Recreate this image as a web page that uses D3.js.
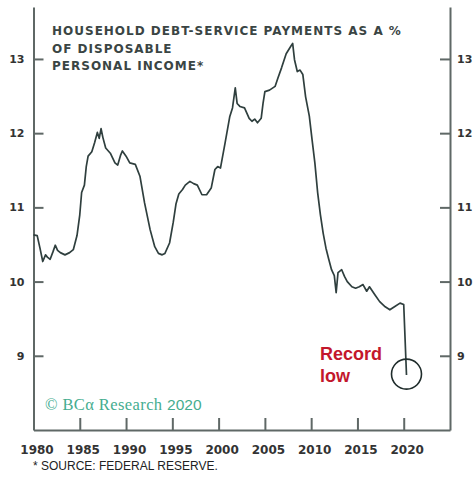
<!DOCTYPE html>
<html>
<head>
<meta charset="utf-8">
<script src="https://cdn.jsdelivr.net/npm/d3@7"></script>
<style>
  body { margin: 0; background: #fff; }
  svg { display: block; }
</style>
</head>
<body>
<div id="chart"></div>
<script>
// DATA (decimal years)
const years = [1980.0, 1980.4, 1980.7, 1981.0, 1981.3, 1981.5, 1981.8, 1982.1, 1982.35, 1982.6, 1982.9, 1983.4, 1983.9, 1984.3, 1984.7,
  1985.0, 1985.2, 1985.5, 1985.7, 1985.9, 1986.3, 1986.6, 1986.9, 1987.1, 1987.3, 1987.5, 1987.8, 1988.3, 1988.8, 1989.1, 1989.4, 1989.6,
  1990.0, 1990.4, 1991.0, 1991.5, 1992.0, 1992.6, 1993.1, 1993.5, 1993.9, 1994.2, 1994.7, 1995.1, 1995.4, 1995.7, 1996.1, 1996.4, 1996.9,
  1997.3, 1997.7, 1998.2, 1998.7, 1999.2, 1999.6, 1999.9, 2000.2, 2000.7, 2001.2, 2001.5, 2001.8, 2002.0, 2002.3, 2002.8, 2003.3, 2003.6,
  2003.9, 2004.2, 2004.6, 2004.8, 2005.0, 2005.5, 2006.1, 2006.4, 2006.8, 2007.3, 2007.7, 2008.0, 2008.2, 2008.5, 2008.8, 2009.1, 2009.4,
  2009.8, 2010.1, 2010.4, 2010.7, 2011.0, 2011.3, 2011.6, 2011.9, 2012.2, 2012.5, 2012.7, 2012.9, 2013.1, 2013.3, 2013.6, 2013.9, 2014.4,
  2014.8, 2015.2, 2015.6, 2016.0, 2016.3, 2016.9, 2017.4, 2018.0, 2018.5, 2019.0, 2019.6, 2020.0, 2020.3]
const debtService = [10.63, 10.62, 10.45, 10.27, 10.36, 10.33, 10.30, 10.40, 10.49, 10.42, 10.39, 10.36, 10.39, 10.43, 10.62,
  10.90, 11.20, 11.30, 11.55, 11.69, 11.75, 11.87, 12.01, 11.93, 12.06, 11.94, 11.80, 11.73, 11.60, 11.57, 11.70, 11.76,
  11.69, 11.60, 11.58, 11.42, 11.06, 10.70, 10.47, 10.38, 10.36, 10.38, 10.52, 10.80, 11.05, 11.18, 11.24, 11.30, 11.35,
  11.32, 11.30, 11.17, 11.17, 11.26, 11.51, 11.55, 11.53, 11.87, 12.22, 12.34, 12.61, 12.40, 12.36, 12.34, 12.20, 12.16,
  12.19, 12.14, 12.20, 12.40, 12.56, 12.58, 12.63, 12.74, 12.88, 13.07, 13.15, 13.21, 12.99, 12.83, 12.85, 12.79, 12.49,
  12.23, 11.91, 11.60, 11.20, 10.90, 10.65, 10.45, 10.30, 10.16, 10.08, 9.85, 10.12, 10.14, 10.16, 10.07, 10.00, 9.93,
  9.91, 9.93, 9.96, 9.87, 9.93, 9.82, 9.73, 9.66, 9.62, 9.66, 9.71, 9.69, 8.74]
const yTicks = [9, 10, 11, 12, 13]
const xLabels = [1980, 1985, 1990, 1995, 2000, 2005, 2010, 2015, 2020]
const xTickMarks = [1985, 1990, 1995, 2000, 2005, 2010, 2015, 2020]
const lowPoint = [2020.3, 8.74]

const width = 474, height = 481

// SCALE
const xScale = d3.scaleLinear().domain([1980, 2025]).range([33.5, 450])
const yScale = d3.scaleLinear().domain([8, 13.7]).range([430, 7])

const svg = d3.select("#chart").append("svg")
  .attr("width", width)
  .attr("height", height)

const axisColor = "#5f6866"

// DRAW AXES
const left = svg.append("g")
  .attr("transform", `translate(${xScale(1980)},0)`)
  .call(d3.axisLeft(yScale).tickValues(yTicks).tickSize(-10).tickSizeOuter(0).tickPadding(9).tickFormat(d3.format("d")))
const right = svg.append("g")
  .attr("transform", `translate(${xScale(2025)},0)`)
  .call(d3.axisRight(yScale).tickValues(yTicks).tickSize(-10).tickSizeOuter(0).tickPadding(7).tickFormat(d3.format("d")))
const bottom = svg.append("g")
  .attr("transform", `translate(0,${yScale(8)})`)
  .call(d3.axisBottom(xScale).tickValues(xTickMarks).tickSize(-12).tickSizeOuter(0).tickFormat(""))
const bottomLabels = svg.append("g")
  .attr("transform", `translate(0,${yScale(8)})`)
  .call(d3.axisBottom(xScale).tickValues(xLabels).tickSize(0).tickPadding(15).tickFormat(d3.format("d")))
bottomLabels.select(".domain").remove()

for (const g of [left, right, bottom]) {
  g.select(".domain").attr("stroke", axisColor).attr("stroke-width", 2)
  g.selectAll(".tick line").attr("stroke", axisColor).attr("stroke-width", 2)
}
for (const g of [left, right]) {
  g.selectAll(".tick text").attr("font-family", "DejaVu Sans").attr("font-weight", "bold")
    .attr("font-size", 11).attr("fill", "#333")
}
bottomLabels.selectAll(".tick text").attr("font-family", "DejaVu Sans").attr("font-weight", "bold")
  .attr("font-size", 12).attr("fill", "#333").attr("dx", 3)

// DRAW LINE
const line = d3.line()
  .x((d, i) => xScale(years[i]))
  .y(d => yScale(d))
svg.append("path")
  .datum(debtService)
  .attr("d", line)
  .attr("fill", "none")
  .attr("stroke", "#2f3f3e")
  .attr("stroke-width", 1.7)
  .attr("stroke-linejoin", "round")

// RECORD LOW CIRCLE
svg.append("circle")
  .attr("cx", xScale(lowPoint[0]))
  .attr("cy", yScale(lowPoint[1]) - 1)
  .attr("r", 15)
  .attr("fill", "none")
  .attr("stroke", "#1f2c2b")
  .attr("stroke-width", 1.6)

const note = svg.append("text")
  .attr("x", 320)
  .attr("y", 360)
  .attr("font-family", "Liberation Sans, Arial, sans-serif")
  .attr("font-weight", "bold")
  .attr("font-size", 18)
  .attr("fill", "#c3172c")
note.append("tspan").attr("x", 320).text("Record")
note.append("tspan").attr("x", 320).attr("dy", 22).text("low")

// TITLE
const title = svg.append("text")
  .attr("x", 52)
  .attr("y", 35)
  .attr("font-family", "DejaVu Sans, sans-serif")
  .attr("font-weight", "bold")
  .attr("font-size", 12)
  .attr("letter-spacing", 1)
  .attr("fill", "#3a4544")
title.append("tspan").attr("x", 52).text("HOUSEHOLD DEBT-SERVICE PAYMENTS AS A %")
title.append("tspan").attr("x", 52).attr("dy", 17.5).text("OF DISPOSABLE")
title.append("tspan").attr("x", 52).attr("dy", 17.5).text("PERSONAL INCOME*")

// BRANDING
const brand = svg.append("text")
  .attr("x", 45)
  .attr("y", 410)
  .attr("fill", "#45ad8f")
  .attr("font-size", 16.5)
brand.append("tspan").attr("font-family", "Liberation Serif, serif").attr("letter-spacing", 0.4).text("© BCα Research ")
brand.append("tspan").attr("font-family", "Liberation Sans, Arial, sans-serif").attr("font-size", 15.5).text("2020")

// SOURCE
svg.append("text")
  .attr("x", 33)
  .attr("y", 470)
  .attr("font-family", "Liberation Sans, Arial, sans-serif")
  .attr("font-size", 12)
  .attr("fill", "#222")
  .text("* SOURCE: FEDERAL RESERVE.")
</script>
</body>
</html>
